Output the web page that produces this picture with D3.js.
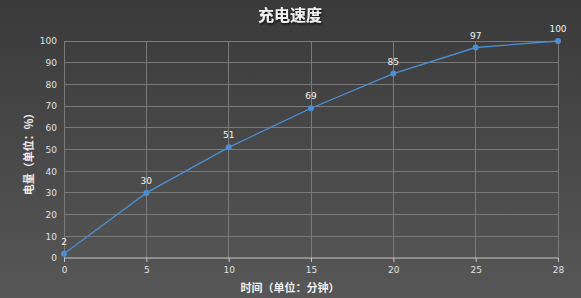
<!DOCTYPE html>
<html>
<head>
<meta charset="utf-8">
<script src="https://cdn.jsdelivr.net/npm/d3@7/dist/d3.min.js"></script>
<style>
  html, body { margin: 0; padding: 0; background: #4a4a4a; }
  svg { display: block; font-family: "Microsoft YaHei", "Noto Sans CJK SC", sans-serif; }
</style>
</head>
<body>
<svg id="chart" width="581" height="298"></svg>
<script>
// Charging time (minutes) and battery level (%)
const minutes = ["0", "5", "10", "15", "20", "25", "28"];
const levels = [2, 30, 51, 69, 85, 97, 100];
const yTicks = [0, 10, 20, 30, 40, 50, 60, 70, 80, 90, 100];

const title = "充电速度";
const xTitle = "时间（单位：分钟）";
const yTitle = "电量（单位：%）";

const W = 581, H = 298;
const margin = { left: 64, right: 23, top: 41, bottom: 40 };

const svg = d3.select("#chart");
const defs = svg.append("defs");

const bg = defs.append("linearGradient").attr("id", "bg")
  .attr("x1", 0).attr("y1", 0).attr("x2", 0).attr("y2", 1);
bg.append("stop").attr("offset", "0%").attr("stop-color", "#3b3a3a");
bg.append("stop").attr("offset", "100%").attr("stop-color", "#575757");

const shadow = defs.append("filter").attr("id", "shadow")
  .attr("x", "-20%").attr("y", "-20%").attr("width", "140%").attr("height", "160%");
shadow.append("feDropShadow").attr("dx", 1).attr("dy", 1.5)
  .attr("stdDeviation", 1).attr("flood-color", "#000").attr("flood-opacity", 0.8);

svg.append("rect").attr("width", W).attr("height", H).attr("fill", "url(#bg)");

const x = d3.scalePoint().domain(minutes).range([margin.left, W - margin.right]);
const y = d3.scaleLinear().domain([0, 100]).range([H - margin.bottom, margin.top]);

// horizontal grid
svg.append("g").selectAll("line").data(yTicks.filter(d => d > 0)).join("line")
  .attr("x1", margin.left).attr("x2", W - margin.right)
  .attr("y1", d => y(d)).attr("y2", d => y(d))
  .attr("stroke", "#7a7a7a").attr("stroke-width", 1)
  .attr("shape-rendering", "crispEdges");

// vertical grid
svg.append("g").selectAll("line").data(minutes).join("line")
  .attr("x1", d => x(d)).attr("x2", d => x(d))
  .attr("y1", y(100)).attr("y2", y(0))
  .attr("stroke", "#7a7a7a").attr("stroke-width", 1)
  .attr("shape-rendering", "crispEdges");

// x axis
const xAxis = svg.append("g")
  .attr("transform", `translate(0,${y(0)})`)
  .call(d3.axisBottom(x).tickSize(4).tickPadding(5));
xAxis.select(".domain").attr("stroke", "#c8c8c8").attr("stroke-width", 1.2)
  .attr("d", `M${margin.left},0H${W - margin.right}`);
xAxis.selectAll(".tick line").attr("stroke", "#c8c8c8");
xAxis.selectAll(".tick text").attr("fill", "#e0e0e0").attr("font-size", 9)
  .attr("font-family", "Verdana, 'DejaVu Sans', sans-serif");

// y axis labels
const yAxis = svg.append("g")
  .attr("transform", `translate(${margin.left},0)`)
  .call(d3.axisLeft(y).tickValues(yTicks).tickSize(0).tickPadding(7));
yAxis.select(".domain").remove();
yAxis.selectAll(".tick text").attr("fill", "#e0e0e0").attr("font-size", 9)
  .attr("font-family", "Verdana, 'DejaVu Sans', sans-serif");

// series line
const pts = minutes.map((m, i) => [x(m), y(levels[i])]);
svg.append("path").datum(pts)
  .attr("d", d3.line())
  .attr("fill", "none").attr("stroke", "#4a8fd4").attr("stroke-width", 1.3);

svg.append("g").selectAll("circle").data(pts).join("circle")
  .attr("cx", d => d[0]).attr("cy", d => d[1]).attr("r", 3)
  .attr("fill", "#4a8fd4");

// value labels
svg.append("g").selectAll("text").data(levels).join("text")
  .attr("x", (d, i) => x(minutes[i]))
  .attr("y", d => y(d) - 9)
  .attr("text-anchor", "middle")
  .attr("fill", "#f2f2f2").attr("font-size", 9)
  .attr("font-family", "Verdana, 'DejaVu Sans', sans-serif")
  .text(d => d);

// titles
svg.append("text").attr("x", 290).attr("y", 21)
  .attr("text-anchor", "middle").attr("fill", "#f0f0f0")
  .attr("font-size", 16).attr("font-weight", "bold")
  .attr("filter", "url(#shadow)").text(title);

svg.append("text").attr("x", 290).attr("y", 292)
  .attr("text-anchor", "middle").attr("fill", "#f0f0f0")
  .attr("font-size", 11).attr("font-weight", "bold").text(xTitle);

svg.append("text")
  .attr("transform", `translate(33,${(y(0) + y(100)) / 2 + 2}) rotate(-90)`)
  .attr("text-anchor", "middle").attr("fill", "#f0f0f0")
  .attr("font-size", 11).attr("font-weight", "bold").text(yTitle);
</script>
</body>
</html>
